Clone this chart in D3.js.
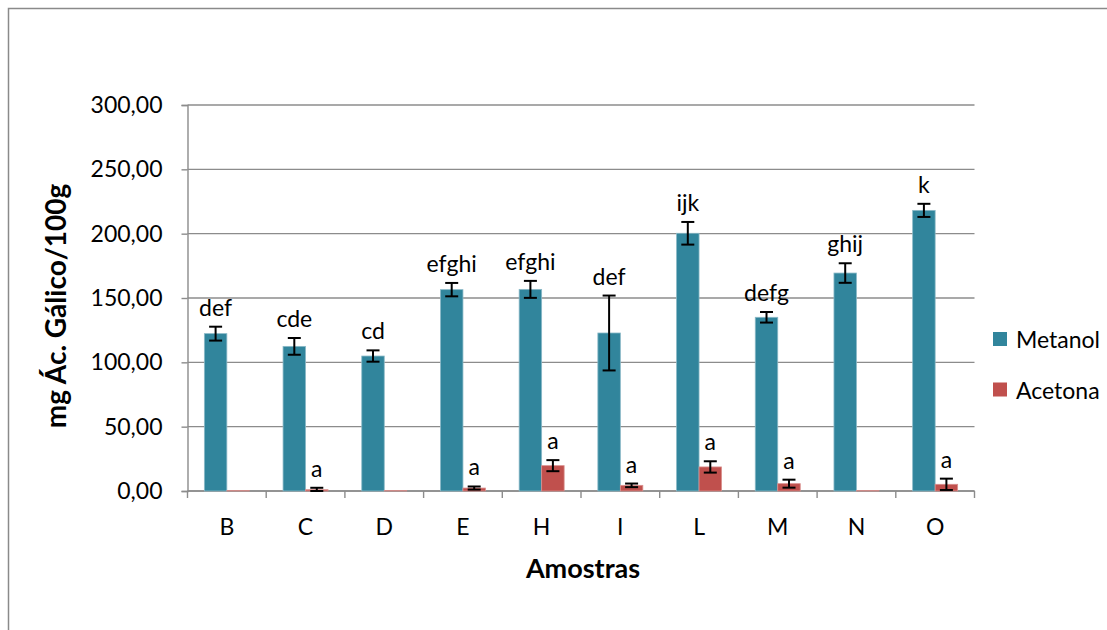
<!DOCTYPE html>
<html>
<head>
<meta charset="utf-8">
<script src="https://cdn.jsdelivr.net/npm/d3@7"></script>
<style>
  html, body { margin: 0; padding: 0; background: #fff; }
  svg { display: block; font-family: Lato, "Open Sans", sans-serif; }
</style>
</head>
<body>
<svg id="chart" width="1107" height="630"></svg>
<script>
// Samples and series (mg gallic acid equivalents / 100 g)
const categories = ["B", "C", "D", "E", "H", "I", "L", "M", "N", "O"];
const metanol = [122.3, 112.4, 104.9, 156.5, 156.7, 122.8, 200.3, 135.0, 169.4, 218.1];
const metanolErr = [5.4, 6.5, 4.4, 5.2, 6.6, 29.1, 8.8, 4.1, 7.6, 5.1];
const acetona = [0.3, 1.0, 0.3, 2.3, 19.7, 4.4, 18.7, 5.7, 0.3, 5.2];
const acetonaErr = [0, 1.5, 0, 1.2, 4.3, 1.4, 4.4, 3.1, 0, 4.4];
const metanolLetters = ["def", "cde", "cd", "efghi", "efghi", "def", "ijk", "defg", "ghij", "k"];
const acetonaLetters = ["", "a", "", "a", "a", "a", "a", "a", "", "a"];
const yTicks = [0, 50, 100, 150, 200, 250, 300];
const seriesNames = ["Metanol", "Acetona"];
const seriesColors = ["#31859C", "#C0504D"];
const seriesStroke = ["#8ab9c7", "#d98f8d"];

const svg = d3.select("#chart");

// outer chart frame
svg.append("rect")
  .attr("x", 8.5).attr("y", 8.5)
  .attr("width", 1120).attr("height", 640)
  .attr("fill", "none").attr("stroke", "#8a8a8a").attr("stroke-width", 1.5);

const plot = { left: 187.5, right: 974.5, top: 105, bottom: 491 };

const x = d3.scaleBand().domain(categories).range([plot.left, plot.right]).paddingInner(0).paddingOuter(0);
const y = d3.scaleLinear().domain([0, 300]).range([plot.bottom, plot.top]);
const barW = x.bandwidth() / 3.5;

// horizontal gridlines
svg.append("g").selectAll("line").data(yTicks).join("line")
  .attr("x1", plot.left).attr("x2", plot.right)
  .attr("y1", d => y(d)).attr("y2", d => y(d))
  .attr("stroke", "#8c8c8c").attr("stroke-width", 1.4);

// y axis
const fmt = v => d3.format(".2f")(v).replace(".", ",");
const yAxis = svg.append("g")
  .attr("transform", `translate(${plot.left},0)`)
  .call(d3.axisLeft(y).tickValues(yTicks).tickFormat(fmt).tickSize(6).tickPadding(19));
yAxis.select(".domain").attr("stroke", "#8c8c8c").attr("stroke-width", 1.4);
yAxis.selectAll(".tick line").attr("stroke", "#8c8c8c").attr("stroke-width", 1.4);
yAxis.selectAll(".tick text")
  .attr("fill", "#000").style("font-size", "23px").style("font-family", "Lato, sans-serif");

// x axis: ticks at category boundaries
const xAxisG = svg.append("g");
xAxisG.append("line")
  .attr("x1", plot.left).attr("x2", plot.right)
  .attr("y1", plot.bottom).attr("y2", plot.bottom)
  .attr("stroke", "#8c8c8c").attr("stroke-width", 1.4);
const boundaries = categories.map(c => x(c)).concat([plot.right]);
xAxisG.selectAll("line.tk").data(boundaries).join("line")
  .attr("class", "tk")
  .attr("x1", d => d).attr("x2", d => d)
  .attr("y1", plot.bottom).attr("y2", plot.bottom + 7)
  .attr("stroke", "#8c8c8c").attr("stroke-width", 1.4);
xAxisG.selectAll("text").data(categories).join("text")
  .attr("x", d => x(d) + x.bandwidth() / 2)
  .attr("y", 535)
  .attr("text-anchor", "middle")
  .style("font-size", "23px")
  .text(d => d);

// bars, error bars and letter labels per series
const series = [
  { vals: metanol, errs: metanolErr, letters: metanolLetters, off: -barW },
  { vals: acetona, errs: acetonaErr, letters: acetonaLetters, off: 0 }
];

series.forEach((s, si) => {
  const g = svg.append("g");
  const cx = i => x(categories[i]) + x.bandwidth() / 2 + s.off + barW / 2;
  g.selectAll("rect").data(s.vals).join("rect")
    .attr("x", (d, i) => cx(i) - barW / 2)
    .attr("width", barW)
    .attr("y", d => y(d))
    .attr("height", d => y(0) - y(d))
    .attr("fill", seriesColors[si])
    .attr("stroke", seriesStroke[si])
    .attr("stroke-width", 0.8);

  const eb = g.selectAll("g.eb").data(s.vals.map((v, i) => ({ v, e: s.errs[i], i })).filter(d => d.e > 0))
    .join("g").attr("class", "eb")
    .attr("stroke", "#000").attr("stroke-width", 2);
  eb.append("line")
    .attr("x1", d => cx(d.i)).attr("x2", d => cx(d.i))
    .attr("y1", d => y(d.v + d.e)).attr("y2", d => y(Math.max(0, d.v - d.e)));
  eb.append("line")
    .attr("x1", d => cx(d.i) - 6.5).attr("x2", d => cx(d.i) + 6.5)
    .attr("y1", d => y(d.v + d.e)).attr("y2", d => y(d.v + d.e));
  eb.append("line")
    .attr("x1", d => cx(d.i) - 6.5).attr("x2", d => cx(d.i) + 6.5)
    .attr("y1", d => y(Math.max(0, d.v - d.e))).attr("y2", d => y(Math.max(0, d.v - d.e)));

  g.selectAll("text").data(s.letters.map((t, i) => ({ t, i })).filter(d => d.t))
    .join("text")
    .attr("x", d => cx(d.i))
    .attr("y", d => y(s.vals[d.i] + s.errs[d.i]) - 11)
    .attr("text-anchor", "middle")
    .style("font-size", "23px")
    .text(d => d.t);
});

// axis titles
svg.append("text")
  .attr("x", 583).attr("y", 578)
  .attr("text-anchor", "middle")
  .style("font-size", "27px").style("font-weight", "bold")
  .text("Amostras");
svg.append("text")
  .attr("transform", "translate(66,306) rotate(-90)")
  .attr("text-anchor", "middle")
  .style("font-size", "28px").style("font-weight", "bold")
  .text("mg Ác. Gálico/100g");

// legend
const legend = svg.append("g");
seriesNames.forEach((name, i) => {
  const ly = 332 + i * 50.5;
  legend.append("rect")
    .attr("x", 993).attr("y", ly).attr("width", 14).attr("height", 14)
    .attr("fill", seriesColors[i]);
  legend.append("text")
    .attr("x", 1016).attr("y", ly + 16)
    .style("font-size", "23px")
    .text(name);
});
</script>
</body>
</html>
